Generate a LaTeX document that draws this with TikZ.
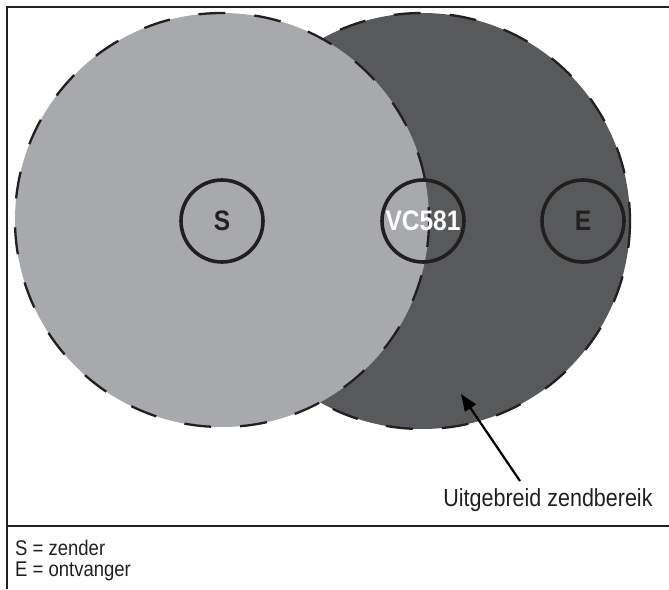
\documentclass[tikz,border=0pt]{standalone}
\usepackage{fontspec}
\setmainfont{Liberation Sans}
\usetikzlibrary{arrows.meta}
\definecolor{lightfill}{RGB}{167,169,172}
\definecolor{darkfill}{RGB}{88,89,91}
\definecolor{inkc}{RGB}{35,31,32}
\newcommand{\tallt}[1]{\scalebox{1}[1.15]{#1}}
\tikzset{
  rangecircle/.style={line width=2.3pt, draw=inkc, dash pattern=on 27pt off 29pt},
  devcircle/.style={circle, draw=inkc, line width=3.6pt, minimum size=82pt, inner sep=0pt, font=\bfseries\fontsize{24.5}{26}\selectfont},
  framel/.style={line width=1.5pt, draw=inkc},
  legend/.style={anchor=base west, inner sep=0pt, font=\fontsize{18.5}{20}\selectfont, text=inkc},
}
\begin{document}
\begin{tikzpicture}[x=1pt,y=-1pt]
\useasboundingbox (0,0) rectangle (669,589);
% frame
\draw[framel] (669,7) -- (7,7) -- (7,589);
\draw[framel] (7,526) -- (669,526);
% range circles
\fill[darkfill] (422,221) circle[radius=208];
\draw[rangecircle] (422,221) circle[radius=208];
\fill[lightfill] (222,220) circle[radius=207];
\draw[rangecircle] (222,220) circle[radius=207];
% devices
\node[devcircle, text=inkc] (S) at (222,221) {\tallt{S}};
\node[devcircle, text=white] (VC) at (423,221) {\tallt{VC581}};
\node[devcircle, text=inkc] (E) at (583,221) {\tallt{E}};
% label + arrow
\node[anchor=base, inner sep=0pt, font=\fontsize{21.5}{23}\selectfont, text=inkc] (lbl) at (548,506) {\tallt{Uitgebreid zendbereik}};
\coordinate (tail) at (520,481);
\coordinate (tip) at (461,394);
\draw[line width=2.2pt, draw=black, -{Triangle[length=17pt,width=13pt]}] (tail) -- (tip);
% legend
\node[legend] (l1) at (15,555) {\tallt{S = zender}};
\node[legend] (l2) at (15,576) {\tallt{E = ontvanger}};
\end{tikzpicture}
\end{document}
